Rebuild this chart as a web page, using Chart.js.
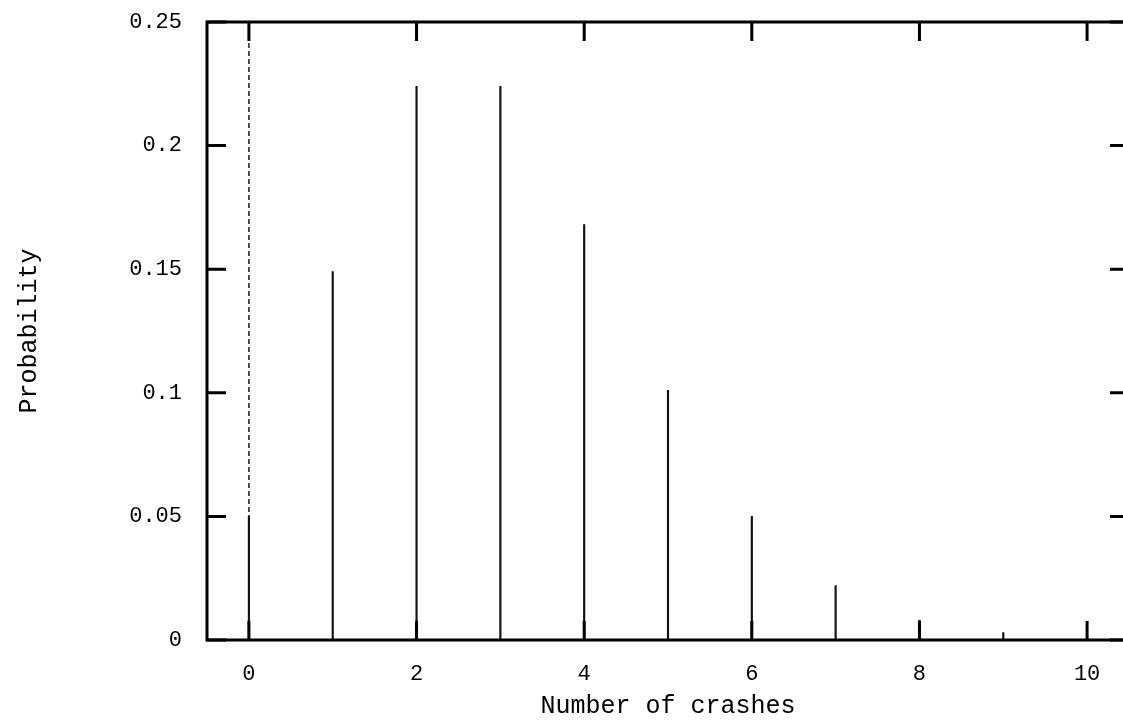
<!DOCTYPE html>
<html>
<head>
<meta charset="utf-8">
<script src="https://cdn.jsdelivr.net/npm/chart.js@4/dist/chart.umd.min.js"></script>
<style>
  html, body { margin: 0; padding: 0; background: #fff; overflow: hidden; }
  #myChart { display: block; }
</style>
</head>
<body>
<canvas id="myChart" width="1160" height="723"></canvas>
<script>
// number of crashes and their probability
const crashes = [0, 1, 2, 3, 4, 5, 6, 7, 8, 9, 10];
const probability = [0.050, 0.149, 0.224, 0.224, 0.168, 0.101, 0.050, 0.022, 0.008, 0.003, 0.001];
const xTicks = [0, 2, 4, 6, 8, 10];
const yTicks = [0, 0.05, 0.1, 0.15, 0.2, 0.25];
const zeroAxis = [0, 0.25];

const FONT = '"Liberation Mono", "DejaVu Sans Mono", monospace';

// gnuplot style frame with inward ticks on all four sides
const framePlugin = {
    id: 'frame',
    afterDraw(chart) {
        const { ctx, chartArea: a, scales } = chart;
        const len = 19;
        ctx.save();
        ctx.strokeStyle = '#000';
        ctx.lineWidth = 3;
        ctx.beginPath();
        xTicks.forEach(v => {
            const px = scales.x.getPixelForValue(v);
            ctx.moveTo(px, a.bottom); ctx.lineTo(px, a.bottom - len);
            ctx.moveTo(px, a.top); ctx.lineTo(px, a.top + len);
        });
        yTicks.forEach(v => {
            const py = scales.y.getPixelForValue(v);
            ctx.moveTo(a.left, py); ctx.lineTo(a.left + len, py);
            ctx.moveTo(a.right, py); ctx.lineTo(a.right - len, py);
        });
        ctx.stroke();
        ctx.strokeRect(a.left, a.top, a.right - a.left, a.bottom - a.top);
        ctx.restore();
    }
};

const ctx = document.getElementById('myChart');

new Chart(ctx, {
    type: 'bar',
    data: {
        datasets: [{
            type: 'line',
            data: zeroAxis.map(v => ({ x: 0, y: v })),
            borderColor: '#000',
            borderWidth: 1.3,
            borderDash: [5, 3],
            pointRadius: 0,
            order: 2
        }, {
            data: crashes.map((c, i) => ({ x: c, y: probability[i] })),
            backgroundColor: '#111',
            barThickness: 1.5,
            order: 1
        }]
    },
    options: {
        responsive: false,
        animation: false,
        events: [],
        layout: { padding: { top: 22, right: 31, left: 0, bottom: 0 } },
        plugins: {
            legend: { display: false },
            tooltip: { enabled: false }
        },
        scales: {
            x: {
                type: 'linear',
                min: -0.5,
                max: 10.5,
                offset: false,
                grid: { display: false },
                border: { display: false },
                afterBuildTicks: s => { s.ticks = xTicks.map(v => ({ value: v })); },
                afterFit: s => { s.height = 83; s.paddingLeft = 0; s.paddingRight = 0; },
                ticks: {
                    padding: 13,
                    color: '#000',
                    maxRotation: 0,
                    font: { family: FONT, size: 22 }
                },
                title: {
                    display: true,
                    text: 'Number of crashes',
                    color: '#000',
                    padding: { top: 0, bottom: 2 },
                    font: { family: FONT, size: 25 }
                }
            },
            y: {
                min: 0,
                max: 0.25,
                grid: { display: false },
                border: { display: false },
                afterBuildTicks: s => { s.ticks = yTicks.map(v => ({ value: v })); },
                afterFit: s => { s.width = 207; s.paddingTop = 0; s.paddingBottom = 0; },
                ticks: {
                    padding: 17,
                    color: '#000',
                    font: { family: FONT, size: 22 },
                    callback: v => String(+v.toFixed(2))
                },
                title: {
                    display: true,
                    text: 'Probability',
                    color: '#000',
                    padding: { top: 14, bottom: 0 },
                    font: { family: FONT, size: 25 }
                }
            }
        }
    },
    plugins: [framePlugin]
});
</script>
</body>
</html>
